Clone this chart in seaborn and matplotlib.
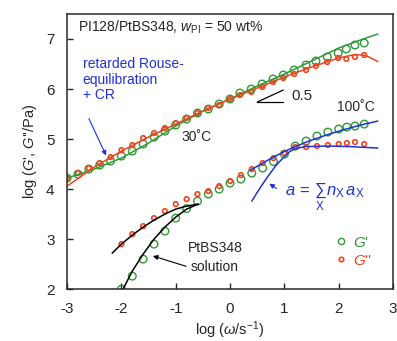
import numpy as np
import pandas as pd
import matplotlib
matplotlib.use("Agg")
import matplotlib.pyplot as plt
from matplotlib.lines import Line2D
import seaborn as sns

# data: blend at 30 C (upper) and 100 C / solution (lower)
logw_30 = [-3.0, -2.8, -2.6, -2.4, -2.2, -2.0, -1.8, -1.6, -1.4, -1.2, -1.0, -0.8, -0.6, -0.4, -0.2, 0.0,
           0.18, 0.39, 0.59, 0.79, 0.98, 1.18, 1.40, 1.58, 1.79, 1.99, 2.14, 2.30, 2.47]
gp_30 = [4.22, 4.30, 4.40, 4.48, 4.56, 4.66, 4.76, 4.90, 5.04, 5.16, 5.28, 5.40, 5.52, 5.60, 5.70, 5.80,
         5.92, 6.00, 6.10, 6.20, 6.28, 6.38, 6.48, 6.56, 6.64, 6.72, 6.80, 6.88, 6.92]
gpp_30 = [4.22, 4.32, 4.42, 4.52, 4.64, 4.78, 4.88, 5.02, 5.12, 5.22, 5.32, 5.42, 5.52, 5.62, 5.68, 5.80,
          5.88, 5.94, 6.04, 6.14, 6.22, 6.30, 6.38, 6.46, 6.54, 6.62, 6.60, 6.64, 6.68]

logw_100 = [-2.0, -1.8, -1.6, -1.4, -1.2, -1.0, -0.8, -0.6, -0.4, -0.2, 0.0, 0.2, 0.4, 0.6, 0.8, 1.0,
            1.2, 1.4, 1.6, 1.8, 2.0, 2.15, 2.3, 2.47]
gp_100 = [2.00, 2.26, 2.60, 2.90, 3.16, 3.42, 3.61, 3.76, 3.90, 4.00, 4.12, 4.20, 4.32, 4.42, 4.55, 4.70,
          4.86, 4.96, 5.06, 5.14, 5.20, 5.24, 5.26, 5.30]
gpp_100 = [2.90, 3.10, 3.26, 3.42, 3.56, 3.70, 3.80, 3.90, 3.96, 4.06, 4.16, 4.28, 4.40, 4.52, 4.62, 4.72,
           4.84, 4.84, 4.86, 4.88, 4.90, 4.92, 4.94, 4.90]

# model curves
fit30_x = [-3.0, -2.5, -2.0, -1.5, -1.0, -0.5, 0.0, 0.5, 1.0, 1.5, 2.0, 2.3, 2.5, 2.72]
fit30_gp = [4.22, 4.40, 4.62, 4.92, 5.26, 5.56, 5.80, 6.06, 6.30, 6.56, 6.82, 6.94, 7.02, 7.10]
fit30_gpp = [4.06, 4.44, 4.76, 5.04, 5.30, 5.56, 5.80, 6.02, 6.24, 6.44, 6.62, 6.69, 6.67, 6.55]

ptbs_gp_x = [-1.98, -1.8, -1.6, -1.4, -1.2, -1.0, -0.8, -0.59]
ptbs_gp = [1.98, 2.36, 2.70, 3.00, 3.24, 3.44, 3.60, 3.70]
ptbs_gpp_x = [-2.17, -2.0, -1.8, -1.6, -1.4, -1.2, -1.0, -0.8, -0.59]
ptbs_gpp = [2.72, 2.90, 3.08, 3.24, 3.38, 3.50, 3.60, 3.66, 3.70]

mix_gp_x = [0.38, 0.6, 0.8, 1.0, 1.2, 1.5, 1.8, 2.1, 2.4, 2.72]
mix_gp = [4.38, 4.52, 4.64, 4.75, 4.85, 4.98, 5.09, 5.19, 5.28, 5.36]
mix_gpp_x = [0.40, 0.55, 0.7, 0.85, 1.0, 1.1, 1.2, 1.4, 1.8, 2.2, 2.72]
mix_gpp = [3.76, 4.02, 4.26, 4.48, 4.65, 4.75, 4.81, 4.85, 4.86, 4.85, 4.82]

GREEN = '#2f9a35'
RED = '#f0441e'
BLUE = '#2130dd'

sns.set_style("ticks")
plt.rcParams['font.family'] = ['Liberation Sans', 'DejaVu Sans']
plt.rcParams['mathtext.fontset'] = 'custom'
plt.rcParams['mathtext.it'] = 'Liberation Sans:italic'
plt.rcParams['mathtext.rm'] = 'Liberation Sans'
plt.rcParams['axes.unicode_minus'] = False

fig = plt.figure(figsize=(3.97, 3.41), dpi=100)
ax = fig.add_axes([0.169, 0.152, 0.821, 0.807])

# lines
sns.lineplot(x=fit30_x, y=fit30_gp, color=GREEN, lw=1.1, ax=ax)
sns.lineplot(x=fit30_x, y=fit30_gpp, color=RED, lw=1.1, ax=ax)
sns.lineplot(x=ptbs_gp_x, y=ptbs_gp, color='black', lw=1.1, ax=ax)
sns.lineplot(x=ptbs_gpp_x, y=ptbs_gpp, color='black', lw=1.1, ax=ax)
sns.lineplot(x=mix_gp_x, y=mix_gp, color=BLUE, lw=1.1, ax=ax)
sns.lineplot(x=mix_gpp_x, y=mix_gpp, color=BLUE, lw=1.1, ax=ax)

# symbols
for xs, ys in [(logw_30, gp_30), (logw_100, gp_100)]:
    sns.scatterplot(x=xs, y=ys, marker='o', s=30, facecolor='none', edgecolor=GREEN, linewidth=1.0, ax=ax)
for xs, ys in [(logw_30, gpp_30), (logw_100, gpp_100)]:
    sns.scatterplot(x=xs, y=ys, marker='o', s=11, facecolor='none', edgecolor=RED, linewidth=1.2, ax=ax)

ax.set_xlim(-3, 3)
ax.set_ylim(2, 7.5)
ax.set_xticks([-3, -2, -1, 0, 1, 2, 3])
ax.set_yticks([2, 3, 4, 5, 6, 7])
ax.tick_params(direction='in', length=4, width=1, labelsize=11, pad=9)
for s in ax.spines.values():
    s.set_visible(True)
    s.set_linewidth(1.1)
    s.set_color('#2a2a2a')

ax.set_xlabel(r"log ($\omega$/s$^{-1}$)", fontsize=10.5, labelpad=3)
ax.set_ylabel(r"log ($G$', $G$''/Pa)", fontsize=10.5, labelpad=5)

# annotations
ax.text(-2.8, 7.24, r"PI128/PtBS348, $w_{\rm PI}$ = 50 wt%", fontsize=10, va='center')
ax.text(-2.71, 6.64, "retarded Rouse-\nequilibration\n+ CR", fontsize=10, color=BLUE, va='top',
        linespacing=1.15)
ax.annotate("", xy=(-2.26, 4.62), xytext=(-2.62, 5.46),
            arrowprops=dict(arrowstyle='-|>', color=BLUE, lw=0.8, mutation_scale=7))
ax.text(-0.61, 5.04, "30˚C", fontsize=10, ha='center', va='center')
ax.text(2.32, 5.64, "100˚C", fontsize=10, ha='center', va='center')
ax.plot([0.5, 0.98], [5.74, 5.74], color='black', lw=0.9)
ax.plot([0.5, 0.98], [5.74, 5.98], color='black', lw=0.9)
ax.text(1.33, 5.86, "0.5", fontsize=11, ha='center', va='center')
ax.text(1.01, 3.84, r"$a\,=\,\sum_{\rm X}\, n_{\rm X}\, a_{\rm X}$", fontsize=12, color=BLUE, va='center')
ax.annotate("", xy=(0.68, 4.14), xytext=(0.9, 3.98),
            arrowprops=dict(arrowstyle='-|>', color=BLUE, lw=0.8, mutation_scale=7))
ax.text(-0.77, 2.82, "PtBS348", fontsize=10, va='center')
ax.text(-0.73, 2.44, "solution", fontsize=10, va='center')
ax.annotate("", xy=(-1.47, 2.68), xytext=(-0.76, 2.44),
            arrowprops=dict(arrowstyle='-|>', color='black', lw=0.8, mutation_scale=7))

handles = [Line2D([], [], ls='none', marker='o', ms=4.5, mfc='none', mec=GREEN, mew=1.0),
           Line2D([], [], ls='none', marker='o', ms=3.2, mfc='none', mec=RED, mew=1.2)]
leg = ax.legend(handles, ["$G$'", "$G$''"], loc='upper left', bbox_to_anchor=(1.82, 3.22),
                bbox_transform=ax.transData, frameon=False, handlelength=0.6, handletextpad=0.5,
                labelspacing=0.25, fontsize=11, labelcolor=[GREEN, RED], borderpad=0)

fig.savefig("out.png", dpi=100)
